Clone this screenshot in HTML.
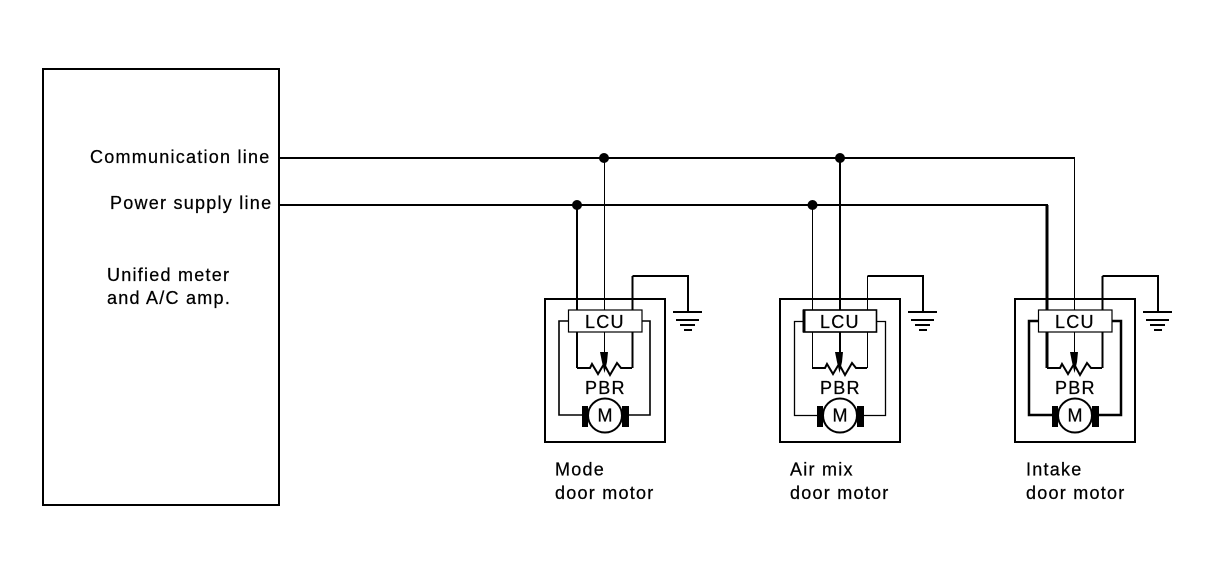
<!DOCTYPE html>
<html><head><meta charset="utf-8"><style>
html,body{margin:0;padding:0;background:#fff;width:1216px;height:582px;overflow:hidden}
svg{display:block}
text{font-family:"Liberation Sans",sans-serif;font-size:18px;fill:#000;stroke:#000;stroke-width:.25px;letter-spacing:1.25px}
.w{fill:none;stroke:#000;stroke-width:2}
.t{fill:none;stroke:#000;stroke-width:1}
.k{fill:none;stroke:#000;stroke-width:3}
</style></head><body>
<svg width="1216" height="582" viewBox="0 0 1216 582" xmlns="http://www.w3.org/2000/svg">
<defs>
<g id="mod">
  <rect x="545" y="299" width="120" height="143" class="w"/>
  <path d="M632.5 276H688V312" class="w"/>
  <path d="M673 312H702M676 320H699M680 325H695M684 330H692" class="w"/>
  <path d="M632 368H621L617 363L610 375L604 364L598 374L592 364L590 368H577" class="w"/>
  <circle cx="605" cy="415.5" r="17" fill="#fff" stroke="#000" stroke-width="2"/>
  <rect x="582" y="406" width="6" height="21" fill="#000"/>
  <rect x="622" y="406" width="7" height="21" fill="#000"/>
  <path d="M600 352H608L607 362L604.5 373L602 362Z" fill="#000"/>
  <text x="585" y="394">PBR</text>
  <text x="597.5" y="421.5" style="font-size:18px;letter-spacing:0">M</text>
</g>
</defs>
<rect x="43" y="69" width="236" height="436" class="w"/>
<text x="90" y="163">Communication line</text>
<text x="110" y="209">Power supply line</text>
<text x="107" y="281">Unified meter</text>
<text x="107" y="304">and A/C amp.</text>
<path d="M279 158H1075M279 205H1048" class="w"/>
<use href="#mod"/>
<use href="#mod" x="235"/>
<use href="#mod" x="470"/>
<!-- Module 1 -->
<path d="M577 205V310M577 332V368M632.5 276V310M632.5 332V368" class="w"/>
<path d="M604.5 158V355" class="t"/>
<rect x="568.5" y="310" width="73.5" height="22" fill="#fff" stroke="#000" stroke-width="1.2"/>
<path d="M568 321H559V415H582M642 321H650V415H628" class="w" style="stroke-width:1.6"/>
<text x="585" y="328">LCU</text>
<!-- Module 2 -->
<path d="M812.5 205V368M867.5 276V368" class="t"/>
<path d="M840 158V355" class="w"/>
<rect x="803.5" y="310" width="73" height="22" fill="#fff" stroke="#000" stroke-width="1.6"/>
<path d="M804 310V332" class="k"/>
<path d="M803 321.5H794.5V415.5H817M877 321.5H885.5V415.5H863" class="t" style="stroke-width:1.3"/>
<text x="820" y="328">LCU</text>
<!-- Module 3 -->
<path d="M1047 205V310M1047 332V368" class="k"/>
<path d="M1102.5 276V310M1102.5 332V368" class="w"/>
<path d="M1074.5 158V355" class="t"/>
<rect x="1038.5" y="310" width="73.5" height="22" fill="#fff" stroke="#000" stroke-width="1.2"/>
<path d="M1038 321H1029V415H1052M1112 321H1121V415H1098" class="k" style="stroke-width:2.5"/>
<text x="1055" y="328">LCU</text>
<circle cx="604" cy="158" r="5" fill="#000"/>
<circle cx="840" cy="158" r="5" fill="#000"/>
<circle cx="577" cy="205" r="5" fill="#000"/>
<circle cx="812.5" cy="205" r="5" fill="#000"/>
<text x="555" y="475.5">Mode</text>
<text x="555" y="499">door motor</text>
<text x="790" y="475.5">Air mix</text>
<text x="790" y="499">door motor</text>
<text x="1026" y="475.5">Intake</text>
<text x="1026" y="499">door motor</text>
</svg>
</body></html>
